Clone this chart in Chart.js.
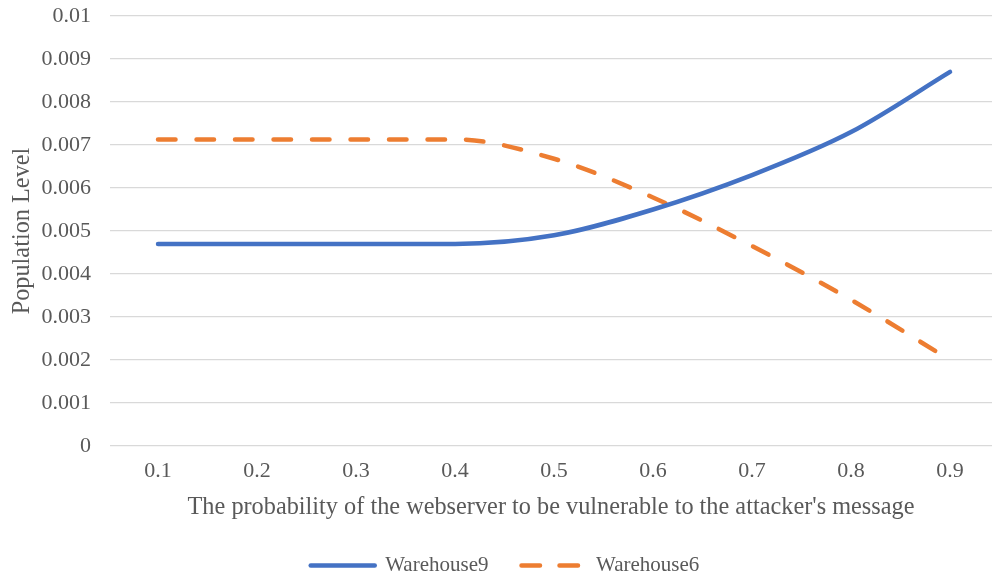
<!DOCTYPE html>
<html>
<head>
<meta charset="utf-8">
<title>Population Level</title>
<script src="https://cdn.jsdelivr.net/npm/chart.js@4.4.1/dist/chart.umd.min.js"></script>
<style>
    html, body { margin: 0; padding: 0; background: #ffffff; }
    #wrap { width: 992px; height: 582px; }
</style>
</head>
<body>
<div id="wrap"><canvas id="population-chart"></canvas></div>
<script>
// values
var probabilities = [0.1, 0.2, 0.3, 0.4, 0.5, 0.6, 0.7, 0.8, 0.9];
var warehouse9 = [0.0047, 0.0047, 0.0047, 0.0047, 0.0049, 0.0055, 0.0063, 0.0073, 0.0087];
var warehouse6 = [0.00713, 0.00713, 0.00713, 0.00713, 0.00668, 0.00578, 0.00465, 0.0034, 0.002];
var xTickLabels = ["0.1", "0.2", "0.3", "0.4", "0.5", "0.6", "0.7", "0.8", "0.9"];
var yTickLabels = ["0", "0.001", "0.002", "0.003", "0.004", "0.005", "0.006", "0.007", "0.008", "0.009", "0.01"];

var textColor = "#595959";
var fontFamily = "'Liberation Serif', 'Times New Roman', serif";

function toPoints(values) {
    var points = [];
    for (var inx = 0; inx < values.length; inx++) {
        points.push({ x: probabilities[inx], y: values[inx] });
    }
    return points;
}

var lineData = {
    datasets: [{
        label: "Warehouse9",
        data: toPoints(warehouse9),
        borderColor: "#4472C4",
        backgroundColor: "#4472C4",
        borderWidth: 4.5,
        borderCapStyle: "round",
        borderJoinStyle: "round",
        cubicInterpolationMode: "monotone",
        pointRadius: 0,
        fill: false
    },
    {
        label: "Warehouse6",
        data: toPoints(warehouse6),
        borderColor: "#ED7D31",
        backgroundColor: "#ED7D31",
        borderWidth: 4.5,
        borderDash: [17.5, 21],
        borderCapStyle: "round",
        borderJoinStyle: "round",
        cubicInterpolationMode: "monotone",
        pointRadius: 0,
        fill: false
    }]
};

var context = document.getElementById("population-chart").getContext("2d");
var myLineChart = new Chart(context, {
    type: 'line',
    data: lineData,
    options: {
        responsive: true,
        maintainAspectRatio: false,
        animation: false,
        layout: {
            padding: { top: 0, right: 0, bottom: 0, left: 18 }
        },
        plugins: {
            tooltip: { enabled: false },
            legend: {
                position: 'bottom',
                maxHeight: 60,
                labels: {
                    usePointStyle: true,
                    pointStyle: 'line',
                    pointStyleWidth: 64,
                    padding: 33,
                    color: textColor,
                    font: { family: fontFamily, size: 21 },
                    generateLabels: function (chart) {
                        var items = Chart.defaults.plugins.legend.labels.generateLabels(chart);
                        items.forEach(function (item) {
                            var ds = chart.data.datasets[item.datasetIndex];
                            item.lineDash = ds.borderDash ? [18.5, 19.5] : [];
                            item.lineCap = "round";
                            item.lineWidth = 4.5;
                            item.strokeStyle = ds.borderColor;
                        });
                        return items;
                    }
                }
            }
        },
        scales: {
            x: {
                type: 'linear',
                min: 0.0515,
                max: 0.9424,
                afterBuildTicks: function (scale) {
                    scale.ticks = probabilities.map(function (p) { return { value: p }; });
                },
                afterFit: function (scale) {
                    scale.height = 76;
                },
                grid: { display: false, drawTicks: false },
                border: { display: false },
                ticks: {
                    padding: 12,
                    color: textColor,
                    maxRotation: 0,
                    autoSkip: false,
                    font: { family: fontFamily, size: 22 },
                    callback: function (value, index) {
                        return xTickLabels[index];
                    }
                },
                title: {
                    display: true,
                    text: "The probability of the webserver to be vulnerable to the attacker's message",
                    color: textColor,
                    font: { family: fontFamily, size: 24.3 },
                    padding: { top: 0, bottom: 0 }
                }
            },
            y: {
                min: 0,
                max: 0.01,
                afterBuildTicks: function (scale) {
                    scale.ticks = yTickLabels.map(function (t) { return { value: parseFloat(t) }; });
                },
                afterFit: function (scale) {
                    scale.width = 92;
                    scale.paddingTop = 16;
                    scale.paddingBottom = 0;
                },
                grid: { color: "#D9D9D9", lineWidth: 1.3, drawTicks: false },
                border: { display: false },
                ticks: {
                    padding: 19,
                    color: textColor,
                    font: { family: fontFamily, size: 22 },
                    callback: function (value, index) {
                        return yTickLabels[index];
                    }
                },
                title: {
                    display: true,
                    text: "Population Level",
                    color: textColor,
                    font: { family: fontFamily, size: 24.3 },
                    padding: { top: -10, bottom: 0 }
                }
            }
        }
    }
});
</script>
</body>
</html>
